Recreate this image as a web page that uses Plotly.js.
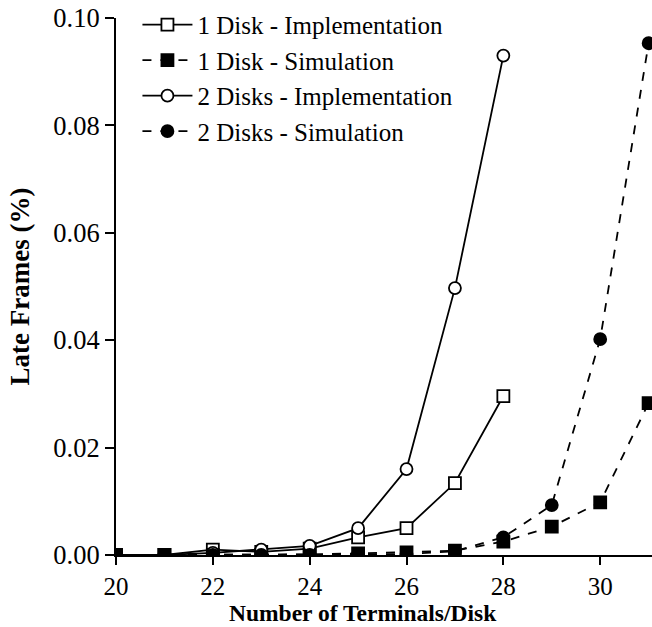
<!DOCTYPE html>
<html>
<head>
<meta charset="utf-8">
<script src="https://cdn.plot.ly/plotly-3.0.1.min.js"></script>
</head>
<body style="margin:0">
<div id="chart"></div>
<script>
// Number of terminals per disk
const terminals = [20, 21, 22, 23, 24, 25, 26, 27, 28, 29, 30, 31];
const terminalsImpl = [20, 21, 22, 23, 24, 25, 26, 27, 28];

// Late frames (%) for each configuration
const oneDiskImpl = [0.0000, 0.0000, 0.0010, 0.0006, 0.0012, 0.0033, 0.0050, 0.0134, 0.0296];
const oneDiskSim  = [0.0000, 0.0000, 0.0000, 0.0000, 0.0001, 0.0003, 0.0005, 0.0008, 0.0025, 0.0053, 0.0098, 0.0283];
const twoDiskImpl = [0.0000, 0.0000, 0.0004, 0.0010, 0.0017, 0.0050, 0.0160, 0.0497, 0.0930];
const twoDiskSim  = [0.0000, 0.0000, 0.0000, 0.0000, 0.0000, 0.0001, 0.0002, 0.0007, 0.0033, 0.0093, 0.0402, 0.0953];

const seriesNames = [
  '1 Disk - Implementation',
  '1 Disk - Simulation',
  '2 Disks - Implementation',
  '2 Disks - Simulation'
];
const xTicks = [20, 22, 24, 26, 28, 30];
const yTicks = [0, 0.02, 0.04, 0.06, 0.08, 0.10];

const textFont = 'Nimbus Roman';
const titleFont = 'Liberation Serif';

function series(x, y, name, dash, symbol, fill) {
  return {
    x: x, y: y, name: name, type: 'scatter', mode: 'lines+markers',
    line: { color: 'black', width: 1.8, dash: dash },
    marker: { symbol: symbol, size: 12, color: fill,
              line: { color: 'black', width: 1.8 } }
  };
}

const data = [
  series(terminalsImpl, oneDiskImpl, seriesNames[0], 'solid', 'square', 'white'),
  series(terminals, oneDiskSim, seriesNames[1], 'dash', 'square', 'black'),
  series(terminalsImpl, twoDiskImpl, seriesNames[2], 'solid', 'circle', 'white'),
  series(terminals, twoDiskSim, seriesNames[3], 'dash', 'circle', 'black')
];

const layout = {
  width: 652, height: 627,
  margin: { l: 116, r: 0, t: 18, b: 72 },
  showlegend: true,
  legend: {
    x: 0.04, y: 1.03, xanchor: 'left', yanchor: 'top',
    bgcolor: 'rgba(0,0,0,0)',
    font: { family: textFont, size: 25, color: 'black' },
    itemwidth: 50
  },
  xaxis: {
    range: [20, 31.07], tickvals: xTicks, ticktext: xTicks.map(String),
    showgrid: false, zeroline: false, showline: true, linecolor: 'black', linewidth: 2,
    ticks: 'outside', ticklen: 8, tickwidth: 2, tickcolor: 'black',
    tickfont: { family: textFont, size: 25, color: 'black' }
  },
  yaxis: {
    range: [0, 0.1], tickvals: yTicks, ticktext: yTicks.map(v => v.toFixed(2)),
    showgrid: false, zeroline: false, showline: true, linecolor: 'black', linewidth: 2,
    ticks: 'outside', ticklen: 9, tickwidth: 2, tickcolor: 'black',
    tickfont: { family: textFont, size: 26.5, color: 'black' },
    title: { text: 'Late Frames (%)', font: { family: titleFont, size: 27, weight: 'bold', color: 'black' }, standoff: 16 }
  },
  annotations: [{
    text: 'Number of Terminals/Disk', xref: 'paper', yref: 'paper',
    x: 0.461, y: -0.108, xanchor: 'center', yanchor: 'middle', showarrow: false,
    font: { family: titleFont, size: 23.5, weight: 'bold', color: 'black' }
  }]
};

Plotly.newPlot('chart', data, layout, { displayModeBar: false });
</script>
</body>
</html>
